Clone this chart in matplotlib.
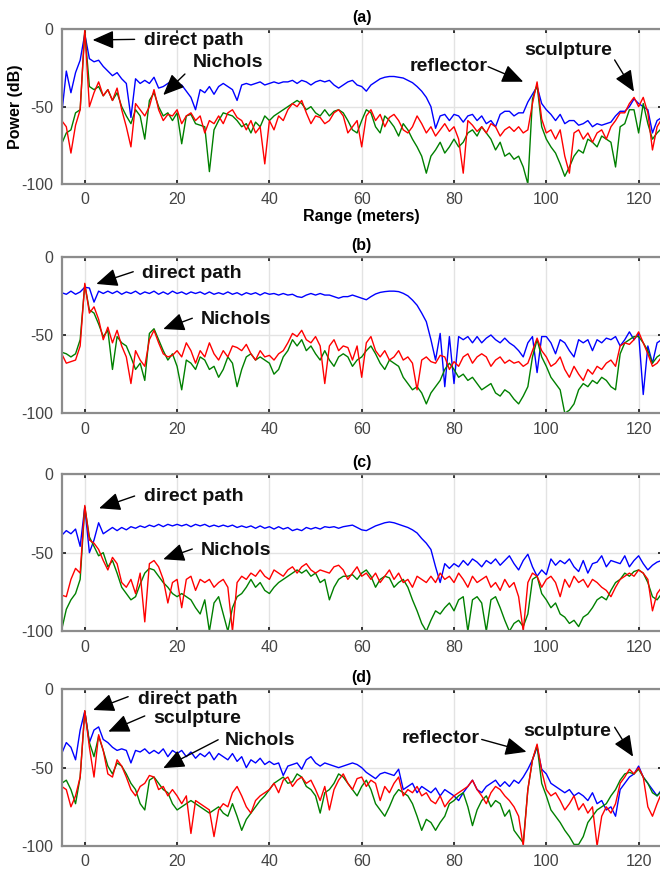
import numpy as np
import matplotlib
matplotlib.use("Agg")
import matplotlib.pyplot as plt

plt.rcParams['font.family'] = ['Liberation Sans', 'DejaVu Sans']
plt.rcParams['axes.unicode_minus'] = False

# range axis, 1 m steps
range_m = np.arange(-5, 126)

# ---- panel (a)
a_blue = [-55, -27, -41, -28, -20, -3, -19, -21, -20, -24, -27, -30, -28, -32, -35, -57,
          -32, -35, -33, -35, -31, -38, -37, -35, -33, -37, -36, -40, -44, -52, -39, -41,
          -37, -42, -37, -35, -37, -39, -46, -36, -35, -36, -35, -34, -36, -35, -34, -35,
          -34, -34, -33, -35, -33, -34, -36, -34, -33, -34, -33, -36, -38, -36, -34, -33,
          -36, -37, -40, -36, -34, -32, -31, -30.5, -30.5, -31, -31.5, -33, -34.5, -37, -40,
          -44, -50, -64, -56, -55, -59, -55, -56, -60, -56, -55, -59, -56, -61, -59, -63,
          -55, -53, -53, -56, -54, -54, -47, -42, -37, -48, -52, -55, -59, -55, -61, -59,
          -59, -62, -61, -59, -63, -61, -62, -61, -60, -56, -53, -53, -50, -45, -48, -50,
          -52, -67, -59, -57]
a_red = [-59, -63, -80, -62, -52, 0, -50, -41, -34, -43, -39, -46, -38, -52, -63, -76,
         -48, -52, -56, -50, -39, -52, -59, -55, -56, -52, -61, -56, -54, -59, -56, -67,
         -59, -61, -56, -61, -54, -52, -57, -59, -65, -59, -67, -63, -87, -59, -65, -56,
         -59, -52, -48, -50, -46, -54, -61, -56, -57, -61, -59, -54, -52, -56, -67, -63,
         -59, -76, -56, -52, -59, -55, -63, -57, -55, -59, -65, -67, -63, -56, -61, -67,
         -63, -69, -65, -61, -66, -63, -71, -93, -59, -62, -66, -63, -67, -61, -63, -69,
         -65, -63, -66, -63, -67, -65, -48, -34, -58, -67, -65, -71, -65, -82, -93, -67,
         -65, -71, -67, -73, -67, -65, -71, -63, -59, -54, -54, -48, -44, -50, -44, -54,
         -78, -63, -58]
a_green = [-74, -67, -65, -54, -52, -1, -37, -39, -37, -43, -39, -46, -41, -50, -56, -61,
           -52, -56, -71, -46, -41, -50, -56, -54, -59, -54, -74, -56, -55, -61, -62, -63,
           -92, -65, -59, -54, -55, -56, -59, -63, -61, -67, -60, -63, -56, -59, -56, -54,
           -52, -50, -48, -46, -48, -52, -50, -54, -56, -52, -56, -53, -52, -54, -59, -65,
           -67, -59, -52, -54, -63, -67, -56, -59, -63, -69, -61, -65, -71, -76, -82, -93,
           -82, -78, -73, -80, -76, -71, -76, -73, -67, -65, -69, -63, -67, -71, -78, -73,
           -82, -80, -84, -82, -89, -100, -45, -36, -63, -71, -76, -80, -87, -95, -89, -82,
           -78, -80, -71, -73, -76, -69, -71, -73, -89, -63, -61, -52, -52, -67, -48, -61,
           -71, -67, -64]

# ---- panel (b)
b_blue = [-23, -24, -22, -24, -22.5, -19.5, -20, -29, -22, -23.5, -22, -23.5, -22, -24, -22.5,
          -23.5, -22, -24, -22.5, -23.5, -22, -24, -22.5, -24, -22, -23.5, -22.5, -24, -22.5,
          -23.5, -22.5, -24, -22.5, -24, -23, -24, -22.5, -24, -23, -24.5, -23, -24, -23,
          -24.5, -23, -24, -23.5, -24.5, -23.5, -24.5, -24, -25.5, -26, -24.5, -23.5, -24.5,
          -23.5, -24.5, -24.5, -25.5, -26.5, -25.5, -25.5, -24.5, -25.5, -26.5, -27.5, -25.5,
          -23.8, -22.8, -22.3, -22, -22, -22.3, -23.4, -25, -27.7, -31, -36, -41.5, -53, -66,
          -49, -83, -51, -81, -51, -53, -51, -55, -51, -55, -52, -50, -53, -55, -52, -55,
          -57, -60, -64, -55, -51, -74, -51, -51, -55, -62, -53, -55, -60, -64, -53, -55,
          -53, -60, -53, -55, -52, -53, -51, -57, -53, -48, -53, -49, -88, -57, -68, -55, -53]
b_red = [-62, -68, -67, -66, -57, -17, -36, -32, -40, -53, -45, -55, -47, -57, -64, -81,
         -60, -66, -70, -53, -47, -55, -62, -64, -63, -60, -64, -55, -60, -68, -60, -64,
         -55, -62, -66, -60, -64, -57, -58, -60, -56, -62, -66, -60, -64, -63, -66, -62,
         -60, -55, -49, -51, -47, -53, -55, -51, -57, -81, -57, -53, -60, -57, -58, -66,
         -57, -77, -55, -51, -60, -64, -60, -66, -64, -60, -66, -64, -68, -85, -66, -64,
         -67, -68, -63, -64, -72, -67, -70, -64, -62, -68, -64, -62, -64, -70, -66, -64,
         -68, -66, -68, -67, -70, -68, -60, -52, -60, -64, -70, -68, -64, -72, -77, -70,
         -75, -79, -72, -75, -70, -72, -68, -66, -70, -57, -55, -56, -53, -48, -55, -62,
         -70, -68, -64]
b_green = [-61, -62, -64, -62, -53, -18, -34, -36, -43, -51, -47, -72, -51, -55, -57, -64,
           -72, -68, -79, -49, -46, -53, -60, -66, -62, -70, -85, -66, -68, -72, -64, -66,
           -72, -70, -77, -72, -64, -68, -83, -72, -64, -62, -66, -64, -66, -68, -75, -72,
           -64, -60, -53, -57, -53, -60, -57, -62, -66, -60, -66, -70, -64, -62, -64, -70,
           -66, -64, -60, -57, -62, -68, -72, -66, -68, -70, -77, -81, -85, -83, -87, -94,
           -87, -83, -79, -72, -68, -72, -77, -75, -79, -77, -81, -85, -83, -81, -87, -89,
           -85, -87, -91, -94, -89, -83, -64, -53, -64, -70, -77, -81, -85, -100, -98, -94,
           -85, -81, -83, -79, -81, -77, -79, -83, -85, -62, -55, -53, -51, -51, -55, -60,
           -68, -64, -62]

# ---- panel (c)
c_blue = [-39, -36, -38, -35, -46, -21, -50, -42, -31, -38, -36, -34, -36, -34, -35.5, -33.5,
          -34.5, -33, -34, -32.5, -33.5, -32, -33.5, -32, -33, -32, -33, -32, -33.5, -32, -33,
          -32, -33.5, -32.5, -33.5, -32.5, -33.5, -32.5, -34, -33, -34, -33, -34.5, -33, -34.5,
          -33.5, -35, -33.5, -35, -34, -36, -35, -36, -34, -35, -34, -35, -33.5, -34, -33.5,
          -34.5, -33.5, -33, -32.5, -34, -35.5, -36, -34.5, -33, -32, -31, -30.5, -31, -32,
          -33, -34, -35.5, -37.5, -41, -44, -48, -59, -69, -57, -60, -57, -59, -55, -58, -54,
          -56, -59, -55, -57, -54, -58, -55, -52, -57, -61, -55, -51, -59, -65, -61, -64,
          -54, -58, -55, -57, -54, -59, -62, -55, -63, -57, -56, -52, -59, -55, -56, -57,
          -52, -59, -55, -52, -57, -61, -58, -56, -55]
c_red = [-77, -78, -67, -60, -63, -20, -42, -44, -48, -55, -61, -53, -57, -69, -72, -67,
         -76, -63, -94, -57, -55, -59, -67, -82, -69, -67, -85, -67, -65, -74, -67, -69,
         -67, -72, -69, -67, -72, -100, -69, -65, -67, -63, -65, -61, -65, -67, -61, -63,
         -65, -61, -59, -63, -59, -57, -61, -63, -61, -62, -63, -59, -58, -61, -67, -63,
         -59, -65, -63, -67, -63, -69, -65, -61, -67, -63, -69, -67, -72, -65, -67, -69,
         -65, -69, -63, -67, -65, -69, -63, -67, -72, -65, -69, -67, -65, -72, -69, -74,
         -67, -72, -69, -78, -100, -69, -63, -65, -72, -67, -65, -69, -78, -67, -72, -65,
         -69, -67, -72, -67, -69, -72, -74, -78, -72, -67, -65, -63, -65, -61, -63, -67,
         -87, -76, -72]
c_green = [-99, -86, -80, -76, -67, -21, -40, -46, -52, -50, -59, -55, -63, -72, -76, -80,
           -78, -70, -63, -60, -61, -65, -69, -72, -76, -78, -76, -78, -80, -85, -89, -80,
           -100, -82, -78, -89, -100, -85, -78, -76, -72, -67, -72, -69, -74, -76, -72, -69,
           -67, -65, -63, -61, -63, -61, -65, -63, -69, -67, -80, -72, -67, -65, -65, -64,
           -67, -63, -61, -65, -72, -67, -65, -66, -72, -69, -67, -72, -80, -87, -95, -100,
           -93, -87, -89, -85, -82, -87, -80, -78, -100, -80, -78, -82, -100, -80, -78, -85,
           -93, -100, -95, -93, -97, -89, -67, -65, -76, -80, -85, -82, -89, -91, -95, -93,
           -97, -91, -89, -85, -80, -78, -80, -74, -69, -67, -63, -65, -62, -61, -63, -69,
           -78, -80, -76]

# ---- panel (d)
d_blue = [-41, -34, -37, -45, -26, -14, -34, -26, -24, -32, -34, -37, -39, -38, -39, -47,
          -39, -40, -38, -41, -39, -41, -38, -43, -39, -41, -39, -43, -40, -44, -41, -43,
          -40, -45, -41, -43, -45, -41, -46, -43, -50, -45, -47, -44, -48, -46, -48, -47,
          -55, -49, -48, -47, -51, -45, -43, -47, -49, -47, -48, -49, -50, -49, -48, -47,
          -48, -50, -53, -55, -57, -54, -53, -54, -55, -51, -64, -62, -60, -66, -62, -64,
          -66, -63, -68, -64, -66, -68, -71, -66, -62, -58, -64, -66, -62, -60, -58, -62,
          -59, -62, -58, -60, -56, -51, -45, -37, -51, -54, -60, -62, -64, -66, -64, -68,
          -66, -68, -71, -66, -73, -71, -77, -75, -81, -64, -60, -56, -54, -49, -56, -60,
          -64, -68, -64]
d_red = [-62, -64, -75, -68, -56, -13.6, -37, -56, -29, -39, -54, -56, -45, -49, -56, -64,
         -68, -62, -60, -55, -56, -64, -62, -68, -64, -68, -73, -68, -92, -71, -73, -75,
         -77, -94, -77, -73, -75, -66, -62, -68, -75, -79, -71, -68, -66, -64, -60, -66,
         -58, -56, -62, -58, -56, -60, -58, -64, -71, -62, -77, -64, -58, -54, -60, -64,
         -57, -56, -62, -58, -60, -71, -62, -66, -60, -56, -68, -64, -66, -62, -68, -66,
         -71, -73, -68, -75, -71, -68, -66, -64, -62, -58, -64, -68, -73, -66, -62, -64,
         -68, -71, -75, -81, -100, -64, -45, -35, -52, -64, -68, -66, -71, -77, -73, -68,
         -77, -73, -79, -75, -100, -81, -75, -79, -73, -60, -56, -51, -54, -50, -56, -75,
         -81, -73, -66]
d_green = [-60, -58, -64, -73, -56, -14, -34, -43, -30, -39, -49, -54, -47, -49, -54, -60,
           -64, -73, -77, -58, -56, -60, -64, -66, -73, -77, -75, -73, -71, -73, -75, -77,
           -79, -77, -75, -79, -81, -73, -81, -90, -83, -79, -75, -71, -68, -64, -60, -58,
           -56, -60, -59, -54, -56, -62, -64, -68, -79, -66, -64, -60, -54, -56, -60, -64,
           -68, -62, -58, -64, -73, -77, -81, -75, -68, -64, -66, -68, -73, -81, -90, -83,
           -85, -90, -85, -81, -73, -71, -68, -66, -75, -87, -77, -71, -68, -75, -71, -73,
           -81, -77, -90, -94, -98, -64, -45, -36, -60, -68, -77, -81, -85, -90, -94, -99,
           -99, -94, -85, -81, -77, -75, -73, -68, -64, -58, -54, -53, -54, -51, -56, -60,
           -66, -68, -65]

panels = [
    ("(a)", a_blue, a_green, a_red),
    ("(b)", b_blue, b_green, b_red),
    ("(c)", c_blue, c_green, c_red),
    ("(d)", d_blue, d_green, d_red),
]

# annotations per panel: (label, text x, text y, arrow tail, arrow tip)
notes = {
    "(a)": [("direct path", 12.8, -7, (10.8, -6.5), (1.7, -6.9)),
            ("Nichols", 23.5, -21.6, (21.7, -28.9), (17, -42.5)),
            ("reflector", 70.4, -24.2, (87.4, -24.2), (95, -33.9)),
            ("sculpture", 95.3, -13.4, (114.8, -19.8), (119, -40.3))],
    "(b)": [("direct path", 12.3, -10.6, (10.5, -9.6), (2.5, -17.4)),
            ("Nichols", 25.1, -40, (23.3, -39.3), (17, -46.2))],
    "(c)": [("direct path", 12.9, -14, (10.8, -14), (3.1, -21.8)),
            ("Nichols", 25.1, -48.7, (23.3, -47.7), (17, -54.2))],
    "(d)": [("direct path", 11.6, -6.4, (9.4, -4.7), (1.8, -13.2)),
            ("sculpture", 14.8, -18.5, (13, -17), (5.1, -27)),
            ("Nichols", 30.3, -32.6, (28.9, -32.2), (17, -50.3)),
            ("reflector", 68.6, -31.4, (86, -32), (95.7, -39.9)),
            ("sculpture", 95, -27.2, (114.8, -24.2), (118.8, -43))],
}

W, H = 660, 876
fig = plt.figure(figsize=(W / 100, H / 100), dpi=100)

# axes boxes in pixels: (top, bottom)
boxes = [(29.3, 184), (256.7, 413.3), (474, 631.3), (689.3, 846)]
left_px, right_px = 61.7, 661.7

for (title, blue, green, red), (top, bot) in zip(panels, boxes):
    ax = fig.add_axes([left_px / W, 1 - bot / H, (right_px - left_px) / W, (bot - top) / H])
    ax.plot(range_m, blue, color=(0, 0, 1), lw=1.0)
    ax.plot(range_m, green, color=(0, 0.5, 0), lw=1.0)
    ax.plot(range_m, red, color=(1, 0, 0), lw=1.0)
    ax.set_xlim(-5, 125)
    ax.set_ylim(-100, 0)
    ax.set_xticks([0, 20, 40, 60, 80, 100, 120])
    ax.set_yticks([-100, -50, 0])
    ax.grid(True, color='#e3e3e3', lw=1.0)
    ax.set_axisbelow(True)
    for s in ax.spines.values():
        s.set_color('#8c8c8c')
        s.set_linewidth(1.6)
    ax.tick_params(direction='in', length=3, width=1.4, color='#333333',
                   labelsize=11.5, labelcolor='#444444', top=True, right=True, pad=6)
    ax.set_title(title, fontsize=11.5, fontweight='bold', pad=5)
    for label, tx, ty, tail, tip in notes[title]:
        ax.text(tx, ty, label, fontsize=14, fontweight='bold', ha='left', va='center',
                color='#111111')
        ax.annotate('', xy=tip, xytext=tail,
                    arrowprops=dict(arrowstyle='-|>,head_length=0.65,head_width=0.28',
                                    color='black', lw=1.0, mutation_scale=20,
                                    shrinkA=0, shrinkB=0))
    if title == "(a)":
        ax.set_ylabel('Power (dB)', fontsize=11.5, fontweight='bold')
        ax.yaxis.set_label_coords(-0.064, 0.5)
        ax.set_xlabel('Range (meters)', fontsize=11.5, fontweight='bold', labelpad=1)

fig.savefig('out.png', dpi=100)
